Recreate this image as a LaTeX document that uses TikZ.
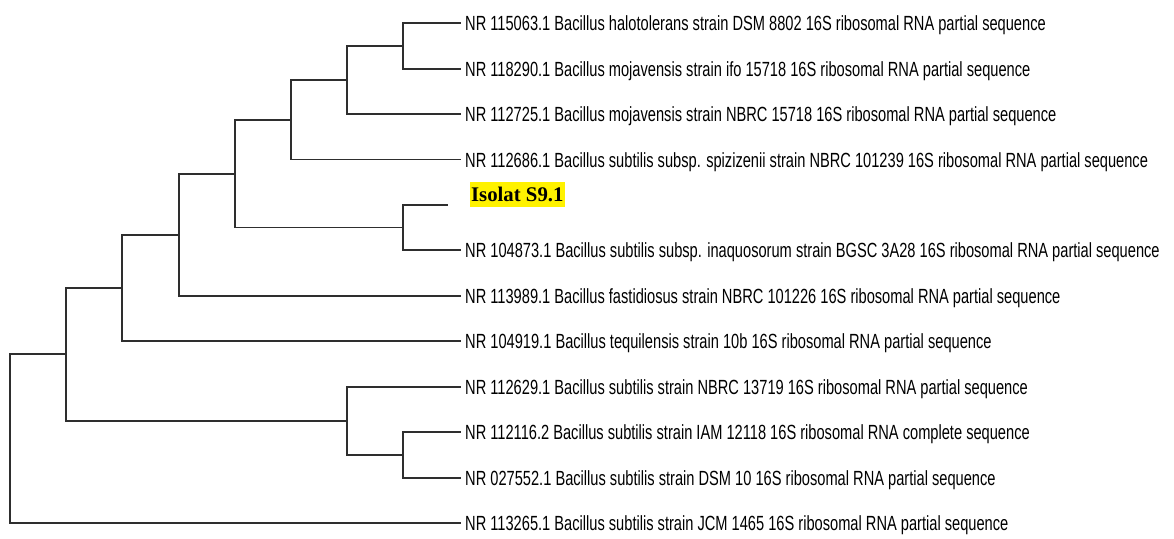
\documentclass[tikz,border=0pt]{standalone}
\usepackage{fontspec}
\setmainfont{Liberation Sans}[FakeStretch=0.714]
\newfontfamily\isofont{Liberation Serif}
\begin{document}
\begin{tikzpicture}[x=1pt,y=-1pt,line cap=rect,line join=miter]
\colorlet{branchc}{black!82}
\colorlet{hilite}{yellow}

\tikzset{
branch/.style={draw=branchc, line width=1.9pt},
leaflabel/.style={anchor=base west, inner sep=0pt, yshift=-7.5pt, font=\fontsize{20.5}{22}\selectfont},
isolabel/.style={fill=hilite, inner sep=0pt, minimum width=95pt, minimum height=25pt, font=\isofont\bfseries\fontsize{20.8}{22}\selectfont}
}

\useasboundingbox (0,0) rectangle (1174,538);

% internal nodes
\coordinate (root) at (10,438.8);
\coordinate (h) at (66,354.3);
\coordinate (g) at (122,287.8);
\coordinate (f) at (179,234.7);
\coordinate (e) at (235,173.6);
\coordinate (c) at (291,119.8);
\coordinate (b) at (347,80);
\coordinate (a) at (403,46);
\coordinate (d) at (403,227.5);
\coordinate (i) at (347,420.8);
\coordinate (j) at (403,455);

% leaf tips
\coordinate (t1) at (460,23.3);
\coordinate (t2) at (460,68.7);
\coordinate (t3) at (460,114);
\coordinate (t4) at (460,159.5);
\coordinate (t5) at (447,205);
\coordinate (t6) at (460,250);
\coordinate (t7) at (460,295.7);
\coordinate (t8) at (460,341);
\coordinate (t9) at (460,386.7);
\coordinate (t10) at (460,432.3);
\coordinate (t11) at (460,477.7);
\coordinate (t12) at (460,523.3);

\draw[branch] (root) |- (h);
\draw[branch] (root) |- (t12);
\draw[branch] (h) |- (g);
\draw[branch] (h) |- (i);
\draw[branch] (g) |- (f);
\draw[branch] (g) |- (t8);
\draw[branch] (f) |- (e);
\draw[branch] (f) |- (t7);
\draw[branch] (e) |- (c);
\draw[branch] (e) |- (d);
\draw[branch] (c) |- (b);
\draw[branch] (c) |- (t4);
\draw[branch] (b) |- (a);
\draw[branch] (b) |- (t3);
\draw[branch] (a) |- (t1);
\draw[branch] (a) |- (t2);
\draw[branch] (d) |- (t5);
\draw[branch] (d) |- (t6);
\draw[branch] (i) |- (t9);
\draw[branch] (i) |- (j);
\draw[branch] (j) |- (t10);
\draw[branch] (j) |- (t11);

\node[leaflabel] (n1) at ([xshift=5pt]t1) {NR 115063.1 Bacillus halotolerans strain DSM 8802 16S ribosomal RNA partial sequence};
\node[leaflabel] (n2) at ([xshift=5pt]t2) {NR 118290.1 Bacillus mojavensis strain ifo 15718 16S ribosomal RNA partial sequence};
\node[leaflabel] (n3) at ([xshift=5pt]t3) {NR 112725.1 Bacillus mojavensis strain NBRC 15718 16S ribosomal RNA partial sequence};
\node[leaflabel] (n4) at ([xshift=5pt]t4) {NR 112686.1 Bacillus subtilis subsp. spizizenii strain NBRC 101239 16S ribosomal RNA partial sequence};
\node[isolabel] (iso) at (517.3,194.2) {Isolat S9.1};
\node[leaflabel] (n6) at ([xshift=5pt]t6) {NR 104873.1 Bacillus subtilis subsp. inaquosorum strain BGSC 3A28 16S ribosomal RNA partial sequence};
\node[leaflabel] (n7) at ([xshift=5pt]t7) {NR 113989.1 Bacillus fastidiosus strain NBRC 101226 16S ribosomal RNA partial sequence};
\node[leaflabel] (n8) at ([xshift=5pt]t8) {NR 104919.1 Bacillus tequilensis strain 10b 16S ribosomal RNA partial sequence};
\node[leaflabel] (n9) at ([xshift=5pt]t9) {NR 112629.1 Bacillus subtilis strain NBRC 13719 16S ribosomal RNA partial sequence};
\node[leaflabel] (n10) at ([xshift=5pt]t10) {NR 112116.2 Bacillus subtilis strain IAM 12118 16S ribosomal RNA complete sequence};
\node[leaflabel] (n11) at ([xshift=5pt]t11) {NR 027552.1 Bacillus subtilis strain DSM 10 16S ribosomal RNA partial sequence};
\node[leaflabel] (n12) at ([xshift=5pt]t12) {NR 113265.1 Bacillus subtilis strain JCM 1465 16S ribosomal RNA partial sequence};
\end{tikzpicture}
\end{document}
